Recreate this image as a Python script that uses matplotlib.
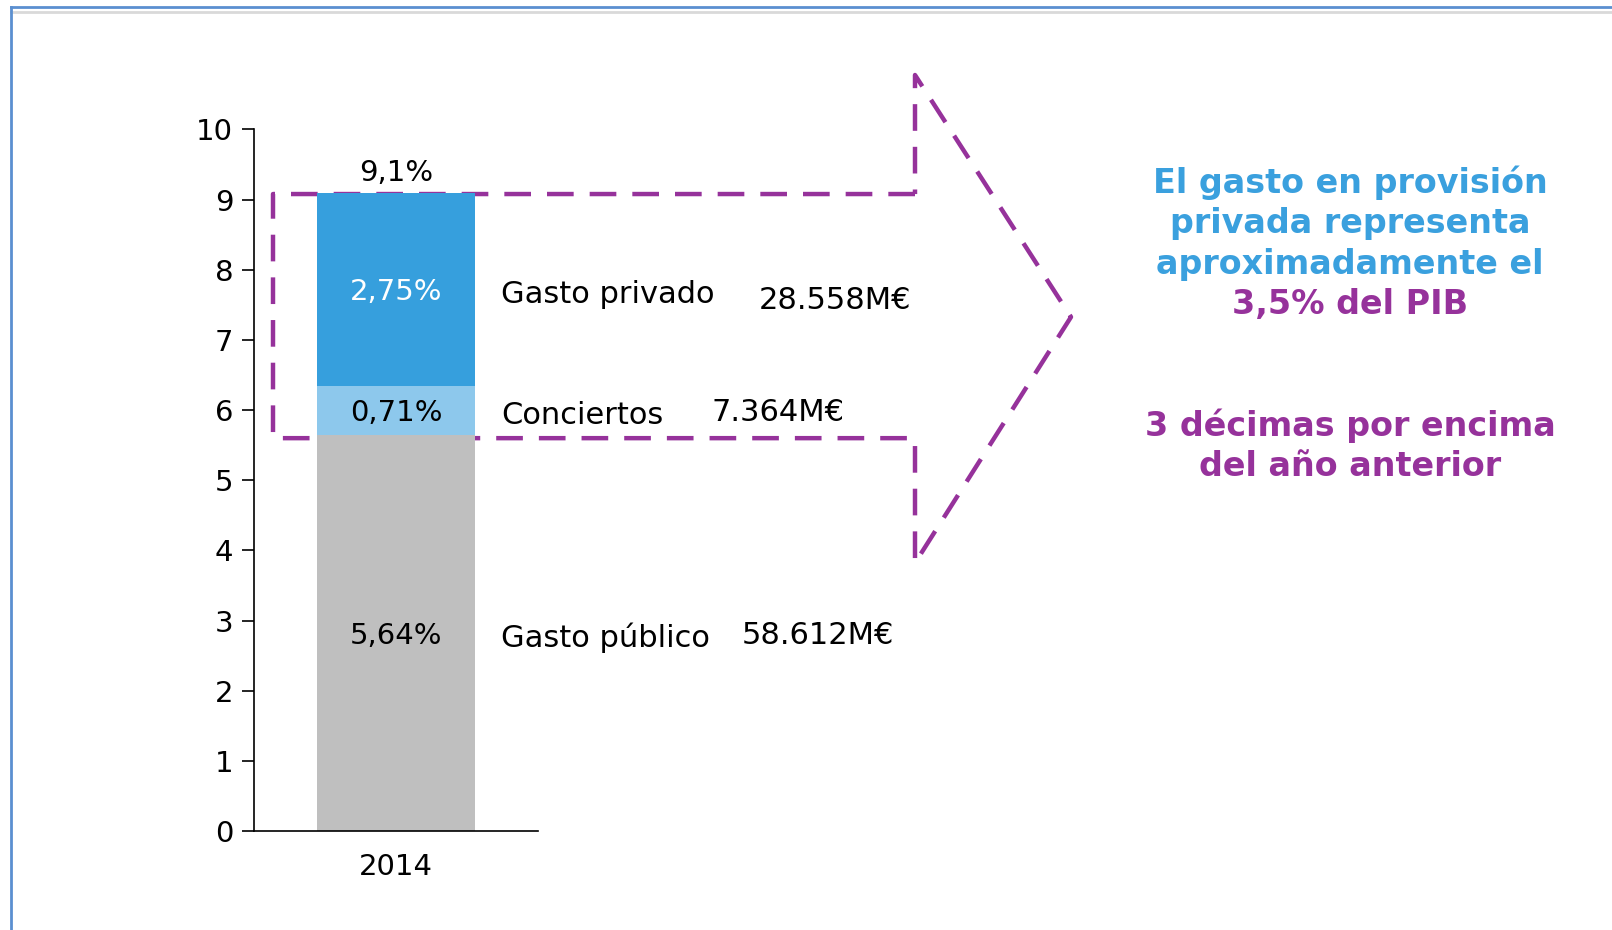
import numpy as np
import matplotlib
matplotlib.use('Agg')
import matplotlib.pyplot as plt

#------datos
years = ['2014']
segment_names = ['Gasto público', 'Conciertos', 'Gasto privado']
segment_values = [5.64, 0.71, 2.75]
segment_labels = ['5,64%', '0,71%', '2,75%']
segment_amounts = ['58.612M€', '7.364M€', '28.558M€']
total_label = '9,1%'
yticks = list(range(0, 11))

c_gray = '#bfbfbf'
c_light = '#8dc8ec'
c_blue = '#369fdd'
c_purple = '#96329b'
c_text_blue = '#3aa0de'

plt.rcParams['font.family'] = ['DejaVu Sans']

W, H = 1612, 930
fig = plt.figure(figsize=(W / 100, H / 100), dpi=100)

#------capa de fondo en pixeles (marco, flecha, textos)
over = fig.add_axes([0, 0, 1, 1])
over.set_xlim(0, W)
over.set_ylim(H, 0)
over.axis('off')

# marco
over.plot([11, W], [7, 7], color='#5b8fd0', lw=2)
over.plot([11, W], [12, 12], color='#d9d9d9', lw=2)
over.plot([11, 11], [7, H], color='#5b8fd0', lw=2)

#------grafico de barras
x0, x1 = 254, 538
y_bot, y_top = 831, 129.5
ax = fig.add_axes([x0 / W, (H - y_bot) / H, (x1 - x0) / W, (y_bot - y_top) / H])
ax.set_xlim(-0.9, 0.9)
ax.set_ylim(0, 10)
colors = [c_gray, c_light, c_blue]
bottom = 0
for v, c, lab, tc in zip(segment_values, colors, segment_labels,
                         ['black', 'black', 'white']):
    ax.bar(0, v, bottom=bottom, width=1.0, color=c, zorder=2)
    mid = bottom + v / 2
    ax.text(0, mid - 0.04, lab, ha='center', va='center', color=tc, fontsize=21)
    bottom += v
ax.text(0, bottom + 0.08, total_label, ha='center', va='bottom', fontsize=21)

ax.set_yticks(yticks)
ax.set_xticks([0])
ax.set_xticklabels(years)
ax.tick_params(axis='y', labelsize=21, length=9, width=1.2, pad=6)
ax.tick_params(axis='x', labelsize=21, length=0, pad=16)
for s in ['top', 'right']:
    ax.spines[s].set_visible(False)
ax.spines['left'].set_linewidth(1.2)
ax.spines['bottom'].set_linewidth(1.2)
ax.patch.set_alpha(0)

def ypix(v):
    return y_bot - v * (y_bot - y_top) / 10

# etiquetas laterales
over.text(501, 638, segment_names[0], ha='left', va='center', fontsize=22)
over.text(742, 635, segment_amounts[0], ha='left', va='center', fontsize=22)
over.text(501, 415, segment_names[1], ha='left', va='center', fontsize=22)
over.text(712, 412, segment_amounts[1], ha='left', va='center', fontsize=22)
over.text(501, 294, segment_names[2], ha='left', va='center', fontsize=22)
over.text(759, 300, segment_amounts[2], ha='left', va='center', fontsize=22)

#------flecha discontinua
ax_x = [915, 273, 273, 915, 915, 1071, 915, 915]
ax_y = [ypix(9.08), ypix(9.08), ypix(5.6), ypix(5.6), 563, 317, 75, ypix(9.08)]
over.plot(ax_x, ax_y, color=c_purple, lw=3.2, ls=(0, (6, 3.6)), zorder=5)

#------texto de la derecha
cx = 1350
over.text(cx, 183, 'El gasto en provisión', ha='center', va='center',
          fontsize=24, fontweight='bold', color=c_text_blue)
over.text(cx, 223, 'privada representa', ha='center', va='center',
          fontsize=24, fontweight='bold', color=c_text_blue)
over.text(cx, 264, 'aproximadamente el', ha='center', va='center',
          fontsize=24, fontweight='bold', color=c_text_blue)
over.text(cx, 304, '3,5% del PIB', ha='center', va='center',
          fontsize=24, fontweight='bold', color=c_purple)
over.text(cx, 426, '3 décimas por encima', ha='center', va='center',
          fontsize=24, fontweight='bold', color=c_purple)
over.text(cx, 466, 'del año anterior', ha='center', va='center',
          fontsize=24, fontweight='bold', color=c_purple)

fig.savefig('out.png', dpi=100)
